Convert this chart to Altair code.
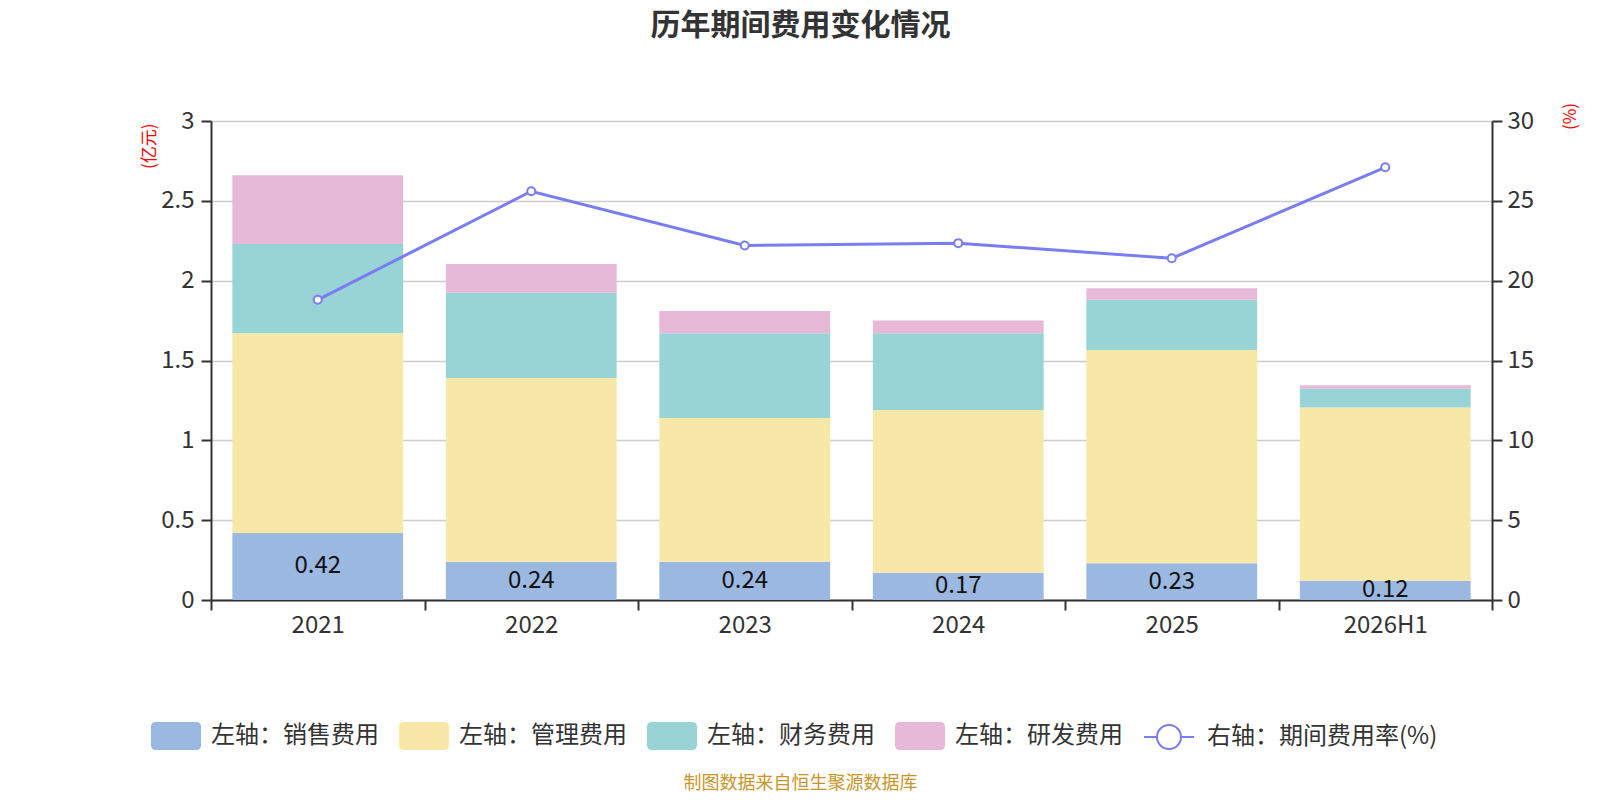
import altair as alt
import pandas as pd

years = ["2021", "2022", "2023", "2024", "2025", "2026H1"]
sales = [0.42, 0.24, 0.24, 0.17, 0.23, 0.12]
mgmt = [1.25, 1.15, 0.90, 1.02, 1.335, 1.085]
fin = [0.56, 0.535, 0.53, 0.48, 0.316, 0.118]
rd = [0.43, 0.18, 0.14, 0.08, 0.072, 0.022]
rate = [18.8, 25.6, 22.2, 22.35, 21.4, 27.1]

series_names = ["左轴：销售费用", "左轴：管理费用", "左轴：财务费用", "左轴：研发费用"]
line_name = "右轴：期间费用率(%)"
bar_colors = ["#9bb8e1", "#f8e8a8", "#98d4d5", "#e6b9d8"]
line_color = "#7a7cf2"
left_ticks = [0, 0.5, 1, 1.5, 2, 2.5, 3]
right_ticks = [0, 5, 10, 15, 20, 25, 30]

FONT = "Noto Sans CJK SC"

rows = []
for i, yr in enumerate(years):
    for k, (name, vals) in enumerate(zip(series_names, [sales, mgmt, fin, rd])):
        rows.append({"year": yr, "series": name, "value": vals[i], "order": k})
bars_df = pd.DataFrame(rows)
line_df = pd.DataFrame({"year": years, "rate": rate, "series": [line_name] * len(years)})
label_df = pd.DataFrame({"year": years, "sales": sales})

rect_path = ("M-0.8,-0.56L0.8,-0.56Q1,-0.56,1,-0.36L1,0.36Q1,0.56,0.8,0.56"
             "L-0.8,0.56Q-1,0.56,-1,0.36L-1,-0.36Q-1,-0.56,-0.8,-0.56Z")
line_path = ("M-1,0L-0.48,0M0.48,0L1,0M-0.48,0A0.48,0.48,0,1,0,0.48,0"
             "A0.48,0.48,0,1,0,-0.48,0")

x_enc = alt.X(
    "year:N", sort=years,
    scale=alt.Scale(paddingInner=0, paddingOuter=0),
    axis=alt.Axis(
        title="制图数据来自恒生聚源数据库", titleColor="#c8952a", titleFontSize=18,
        titleFontWeight="normal", titleX=589, titleY=183, titleBaseline="middle",
        titleAlign="center", labelAngle=0, labelFontSize=24, labelColor="#333333",
        labelPadding=3, tickBand="extent", tickSize=10, tickWidth=2,
        tickColor="#333333", domainColor="#333333", domainWidth=2, grid=False,
    ),
)

left_axis = alt.Axis(
    values=left_ticks, format="~g", title="(亿元)", titleColor="red",
    titleFontSize=17, titleFontWeight="normal", titleAngle=270, titleX=-62,
    titleY=2, titleAlign="right", titleBaseline="middle", labelFontSize=24,
    labelColor="#333333", labelPadding=7, tickSize=10, tickWidth=2,
    tickColor="#333333", domainColor="#333333", domainWidth=2,
    gridColor="#cccccc", gridWidth=1.5,
)

right_axis = alt.Axis(
    orient="right", values=right_ticks, format="~g", title="(%)", titleColor="red",
    titleFontSize=17, titleFontWeight="normal", titleAngle=270, titleX=78,
    titleY=-5, titleAlign="center", titleBaseline="middle", labelFontSize=24,
    labelColor="#333333", labelPadding=5, tickSize=10, tickWidth=2,
    tickColor="#333333", domainColor="#333333", domainWidth=2, grid=False,
)

bars = alt.Chart(bars_df).mark_bar(width=alt.RelativeBandSize(0.8)).encode(
    x=x_enc,
    y=alt.Y("value:Q", stack="zero", scale=alt.Scale(domain=[0, 3]), axis=left_axis),
    fill=alt.Fill(
        "series:N",
        scale=alt.Scale(domain=series_names, range=bar_colors),
        legend=alt.Legend(
            orient="none", legendX=-60, legendY=590, direction="horizontal",
            title=None, symbolType=rect_path, symbolSize=2500, symbolStrokeWidth=0,
            symbolOpacity=1, labelFontSize=24, labelColor="#333333", labelOffset=10,
            columnPadding=20, padding=0, labelLimit=400,
        ),
    ),
    order=alt.Order("order:Q", sort="ascending"),
)

labels = alt.Chart(label_df).transform_calculate(
    mid="datum.sales / 2"
).mark_text(fontSize=24, color="#111111", baseline="middle").encode(
    x=x_enc,
    y=alt.Y("mid:Q", scale=alt.Scale(domain=[0, 3]), axis=left_axis),
    text=alt.Text("sales:Q", format=".2f"),
)

stroke_enc = alt.Stroke(
    "series:N",
    scale=alt.Scale(domain=[line_name], range=[line_color]),
    legend=alt.Legend(
        orient="none", legendX=932, legendY=590, direction="horizontal",
        title=None, symbolType=line_path, symbolSize=2500, symbolStrokeWidth=2,
        symbolFillColor="white", labelFontSize=24, labelColor="#333333",
        labelOffset=12, padding=0, labelLimit=400,
    ),
)

y_right = alt.Y("rate:Q", scale=alt.Scale(domain=[0, 30]), axis=right_axis)

line = alt.Chart(line_df).mark_line(strokeWidth=3).encode(
    x=x_enc, y=y_right, stroke=stroke_enc
)
points = alt.Chart(line_df).mark_point(
    shape="circle", filled=True, fill="white", size=64, strokeWidth=2, opacity=1
).encode(x=x_enc, y=y_right, stroke=stroke_enc)

left = alt.layer(bars, labels)
right = alt.layer(line, points)

chart = alt.layer(left, right).resolve_scale(
    y="independent", fill="independent", stroke="independent"
).properties(
    width=1281,
    height=479,
    padding={"left": 203, "top": 113, "right": 100, "bottom": 192},
    autosize=alt.AutoSizeParams(type="none"),
    title=alt.TitleParams(
        text="历年期间费用变化情况", fontSize=30, fontWeight="bold", color="#333333",
        anchor="middle", dx=-51, offset=61,
    ),
).configure(font=FONT).configure_view(stroke=None)

chart.save("out.html", embed_options={"renderer": "svg", "actions": False})
